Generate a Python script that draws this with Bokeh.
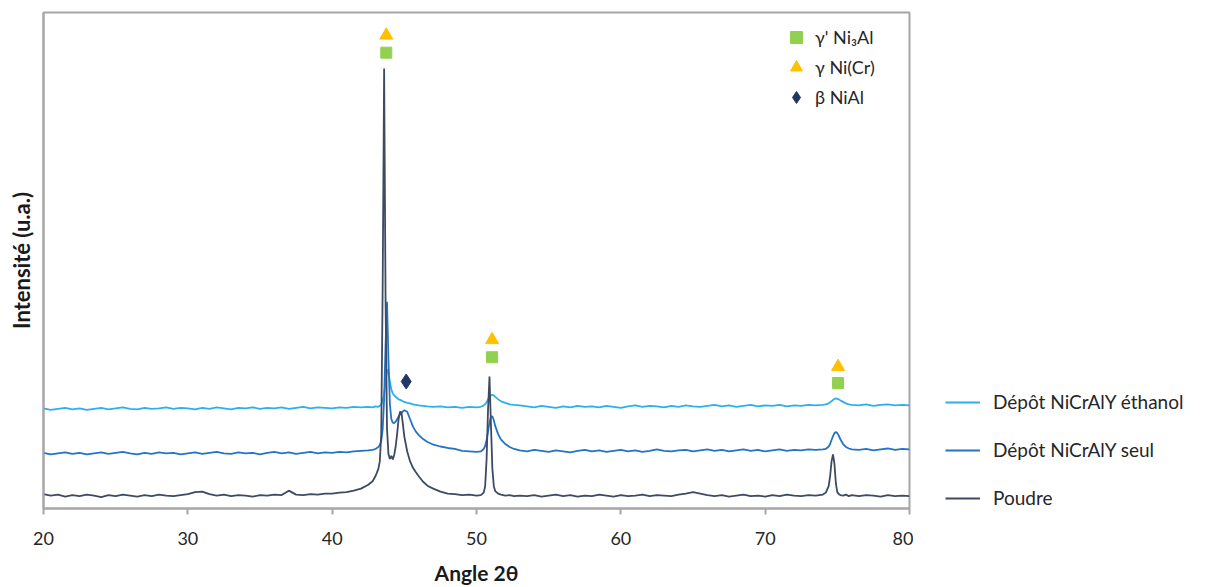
from bokeh.plotting import figure
from bokeh.layouts import row
from bokeh.models import Legend, LegendItem, Range1d, FixedTicker, ColumnDataSource
from bokeh.embed import file_html
from bokeh.resources import INLINE

# ---------------- data ----------------
ANGLE = [
    20.0, 20.5, 21.0, 21.5, 22.0, 22.5, 23.0, 23.5, 24.0, 24.5,
    25.0, 25.5, 26.0, 26.5, 27.0, 27.5, 28.0, 28.5, 29.0, 29.5,
    30.0, 30.5, 31.0, 31.5, 32.0, 32.5, 33.0, 33.5, 34.0, 34.5,
    35.0, 35.5, 36.0, 36.5, 37.0, 37.5, 38.0, 38.5, 39.0, 39.5,
    40.0, 40.5, 41.0, 41.5, 42.0, 42.5,
    42.8, 43.0, 43.2, 43.3, 43.4, 43.5, 43.6, 43.7, 43.8, 43.9,
    44.0, 44.1, 44.2, 44.3, 44.4, 44.5, 44.6, 44.7, 44.8, 44.9,
    45.0, 45.2, 45.4, 45.6, 45.8, 46.0, 46.3, 46.6, 47.0,
    47.5, 48.0, 48.5, 49.0, 49.5, 50.0,
    50.3, 50.5, 50.6, 50.7, 50.8, 50.9, 51.0, 51.1, 51.2, 51.3,
    51.5, 51.7, 52.0, 52.3, 52.6, 53.0,
    53.5, 54.0, 54.5, 55.0, 55.5, 56.0, 56.5, 57.0, 57.5, 58.0,
    58.5, 59.0, 59.5, 60.0, 60.5, 61.0, 61.5, 62.0, 62.5, 63.0,
    63.5, 64.0, 64.5, 65.0, 65.5, 66.0, 66.5, 67.0, 67.5, 68.0,
    68.5, 69.0, 69.5, 70.0, 70.5, 71.0, 71.5, 72.0, 72.5, 73.0,
    73.5, 74.0,
    74.2, 74.4, 74.5, 74.6, 74.7, 74.8, 74.9, 75.0, 75.1, 75.2,
    75.4, 75.6, 75.8, 76.0,
    76.5, 77.0, 77.5, 78.0, 78.5, 79.0, 79.5, 80.0,
]

POUDRE = [
    2.9, 2.6, 2.8, 2.4, 2.7, 2.5, 2.8, 2.6, 2.3, 2.7,
    2.5, 2.8, 2.6, 2.4, 2.7, 2.5, 2.8, 2.6, 2.5, 2.7,
    2.9, 3.3, 3.4, 2.9, 2.6, 2.8, 2.5, 2.7, 2.6, 2.4,
    2.7, 2.6, 2.8, 2.7, 3.6, 2.8, 2.7, 2.9, 2.8, 3.0,
    3.0, 3.2, 3.3, 3.6, 4.0, 4.8,
    5.5, 6.5, 8.0, 9.5, 15.0, 45.0, 88.7, 42.0, 16.0, 11.0,
    10.0, 10.6, 9.9, 10.8, 12.5, 15.0, 18.0, 19.5, 19.4, 17.0,
    14.5, 11.5, 9.5, 8.2, 7.3, 6.5, 5.4, 4.6, 4.0,
    3.4, 3.0, 2.9, 2.7, 2.8, 2.6,
    2.7, 3.2, 4.5, 10.0, 20.0, 26.6, 17.0, 8.0, 4.5, 3.5,
    3.0, 2.8, 2.6, 2.7, 2.5, 2.6,
    2.5, 2.7, 2.4, 2.6, 2.8, 2.5, 2.7, 2.4, 2.6, 2.5,
    2.8, 2.6, 2.4, 2.7, 2.5, 2.6, 2.8, 2.5, 2.7, 2.6,
    2.5, 2.8, 3.0, 3.3, 3.0, 2.7, 2.5, 2.7, 2.4, 2.6,
    2.8, 2.5, 2.6, 2.4, 2.7, 2.5, 2.8, 2.6, 2.5, 2.7,
    2.6, 2.8,
    3.2, 4.5, 6.5, 9.5, 10.9, 9.0, 5.0, 3.3, 2.9, 2.7,
    2.6, 2.8, 2.5, 2.7,
    2.5, 2.7, 2.6, 2.4, 2.7, 2.5, 2.6, 2.5,
]

SEUL = [
    11.2, 10.9, 11.1, 11.3, 11.0, 11.2, 10.9, 11.1, 11.3, 11.0,
    11.2, 11.4, 11.1, 10.9, 11.2, 11.0, 11.3, 11.1, 11.2, 10.9,
    11.1, 11.3, 11.0, 11.2, 11.4, 11.1, 11.0, 11.3, 11.1, 11.2,
    10.9, 11.2, 11.4, 11.1, 11.3, 11.0, 11.2, 11.4, 11.1, 11.3,
    11.2, 11.4, 11.3, 11.5, 11.6, 11.7,
    11.8, 12.0, 12.4, 12.8, 13.6, 16.0, 22.0, 33.0, 41.7, 30.0,
    21.0, 18.0, 17.3, 17.2, 17.5, 18.0, 18.5, 19.0, 19.3, 19.6,
    19.8, 19.5, 18.0, 16.5, 15.5, 14.8, 14.0, 13.4, 12.9,
    12.5, 12.2, 12.0, 11.6, 11.5, 11.4,
    11.5, 12.0, 12.6, 13.8, 15.5, 17.3, 18.5, 18.6, 17.8, 16.6,
    15.0, 13.9, 13.0, 12.4, 12.0, 11.7,
    11.5, 11.8, 11.6, 11.4, 11.7, 11.5, 11.3, 11.6, 11.8, 11.5,
    11.7, 11.4, 11.6, 11.8, 11.5, 11.7, 11.4, 11.6, 11.9, 11.6,
    11.5, 11.7, 11.8, 11.5, 11.7, 11.9, 11.6, 11.8, 11.5, 11.7,
    11.9, 11.6, 11.8, 11.5, 11.7, 11.9, 11.6, 11.8, 11.7, 11.9,
    11.8, 11.9,
    12.0, 12.5, 13.0, 13.8, 14.6, 15.2, 15.4, 15.2, 14.7, 14.0,
    13.0, 12.4, 12.1, 11.9,
    11.8, 12.0, 11.7, 11.9, 12.1, 11.8, 12.0, 11.9,
]

ETHANOL = [
    20.2, 19.9, 20.1, 20.3, 20.0, 20.2, 19.9, 20.1, 20.3, 20.0,
    20.2, 20.4, 20.1, 20.0, 20.3, 20.1, 20.2, 20.4, 20.1, 20.3,
    20.2, 20.0, 20.3, 20.1, 20.4, 20.2, 20.0, 20.3, 20.2, 20.4,
    20.1, 20.3, 20.2, 20.4, 20.1, 20.3, 20.5, 20.2, 20.4, 20.3,
    20.2, 20.4, 20.3, 20.5, 20.4, 20.5,
    20.4, 20.6, 20.5, 20.7, 21.0, 21.8, 23.0, 25.5, 28.0, 27.5,
    25.5, 24.0, 23.2, 22.8, 22.5, 22.3, 22.0, 21.9, 21.8, 21.6,
    21.5, 21.3, 21.2, 21.0, 20.9, 20.8, 20.7, 20.6, 20.5,
    20.6, 20.4, 20.5, 20.3, 20.5, 20.4,
    20.5, 20.8, 21.0, 21.4, 22.0, 22.5, 22.8, 22.9, 22.8, 22.5,
    22.0, 21.6, 21.3, 21.0, 20.9, 20.8,
    20.6, 20.4, 20.7, 20.5, 20.3, 20.6, 20.4, 20.7, 20.5, 20.6,
    20.4, 20.7, 20.5, 20.3, 20.6, 20.8, 20.5, 20.7, 20.6, 20.4,
    20.7, 20.5, 20.8, 20.6, 20.5, 20.7, 20.9, 20.6, 20.8, 20.5,
    20.7, 20.9, 20.6, 20.8, 20.7, 20.9, 20.6, 20.8, 20.7, 20.9,
    20.8, 20.9,
    21.0, 21.2, 21.4, 21.6, 21.9, 22.1, 22.2, 22.1, 22.0, 21.8,
    21.5, 21.2, 21.0, 20.9,
    20.8, 21.0, 20.7, 20.9, 21.0, 20.8, 20.9, 20.8,
]

SERIES_KEYS = ["ethanol", "seul", "poudre"]
SERIES_NAMES = ["Dépôt NiCrAlY éthanol", "Dépôt NiCrAlY seul", "Poudre"]
SERIES_COLORS = ["#2bb0ec", "#2374c4", "#3d4a62"]

# phase markers
GAMMA_PRIME_X = [43.75, 51.08, 75.05]
GAMMA_PRIME_Y = [91.9, 30.5, 25.3]
GAMMA_X = [43.75, 51.08, 75.05]
GAMMA_Y = [95.4, 34.0, 28.6]
BETA_X = [45.13]
BETA_Y = [25.6]
PHASE_NAMES = ["γ' Ni₃Al", "γ Ni(Cr)", "β NiAl"]

X_TICKS = [20, 30, 40, 50, 60, 70, 80]

# ---------------- main figure ----------------
FONT = "Lato"
TXT = "#262626"
GRAY = "#a6a6a6"
p = figure(width=913, height=587, x_range=Range1d(20, 80), y_range=Range1d(0, 100),
           output_backend="svg", toolbar_location=None,
           min_border_left=43, min_border_top=12, min_border_bottom=78, min_border_right=4)
p.background_fill_color = "white"
p.border_fill_color = "white"
p.outline_line_color = GRAY
p.outline_line_width = 2
p.xgrid.visible = False
p.ygrid.visible = False

xa = p.xaxis[0]
xa.ticker = FixedTicker(ticks=X_TICKS)
xa.minor_tick_line_color = None
xa.major_tick_in = 0
xa.major_tick_out = 6
xa.major_tick_line_color = GRAY
xa.major_tick_line_width = 2
xa.axis_line_color = GRAY
xa.axis_line_width = 2
xa.major_label_text_font = FONT
xa.major_label_text_font_size = "18px"
xa.major_label_text_color = TXT
xa.major_label_standoff = 17
xa.axis_label = "Angle 2θ"
xa.axis_label_text_font = FONT
xa.axis_label_text_font_style = "bold"
xa.axis_label_text_font_size = "21px"
xa.axis_label_text_color = "#1a1a1a"
xa.axis_label_standoff = 12

ya = p.yaxis[0]
ya.ticker = FixedTicker(ticks=[])
ya.minor_tick_line_color = None
ya.major_tick_in = 0
ya.major_tick_out = 0
ya.axis_line_color = GRAY
ya.axis_line_width = 2
ya.axis_label = "Intensité (u.a.)"
ya.axis_label_text_font = FONT
ya.axis_label_text_font_style = "bold"
ya.axis_label_text_font_size = "22px"
ya.axis_label_text_color = "#1a1a1a"
ya.axis_label_standoff = 9

src = ColumnDataSource(dict(angle=ANGLE, poudre=POUDRE, seul=SEUL, ethanol=ETHANOL))
for key, col in zip(SERIES_KEYS, SERIES_COLORS):
    p.line("angle", key, source=src, line_color=col, line_width=1.8)

r_gp = p.scatter(GAMMA_PRIME_X, GAMMA_PRIME_Y, marker="square", size=11,
                 fill_color="#92d050", line_color="#92d050")
r_g = p.scatter(GAMMA_X, GAMMA_Y, marker="triangle", size=13,
                fill_color="#ffc000", line_color="#ffc000")
r_b = p.scatter(BETA_X, BETA_Y, marker="diamond", size=15,
                fill_color="#1f3864", line_color="#1f3864")

phase_legend = Legend(
    items=[LegendItem(label=PHASE_NAMES[0], renderers=[r_gp]),
           LegendItem(label=PHASE_NAMES[1], renderers=[r_g]),
           LegendItem(label=PHASE_NAMES[2], renderers=[r_b])],
    location=(738, 396), orientation="vertical",
    glyph_width=30, glyph_height=30, label_height=30, spacing=0,
    label_standoff=4, padding=0, margin=0,
    border_line_color=None, background_fill_alpha=0,
    label_text_font=FONT, label_text_font_size="18px", label_text_color=TXT)
p.add_layout(phase_legend, "center")

# ---------------- legend panel (right of the chart) ----------------
q = figure(width=300, height=587, x_range=Range1d(0, 1), y_range=Range1d(0, 1),
           output_backend="svg", toolbar_location=None,
           x_axis_type=None, y_axis_type=None,
           min_border_left=0, min_border_right=0, min_border_top=12, min_border_bottom=78)
q.outline_line_color = None
q.xgrid.visible = False
q.ygrid.visible = False
q.border_fill_color = "white"
# same series drawn in this panel only so that the legend shows their lines
# (they fall outside this panel's ranges, so nothing is visible here)
lr = [q.line("angle", key, source=src, line_color=col, line_width=1.8)
      for key, col in zip(SERIES_KEYS, SERIES_COLORS)]

series_legend = Legend(
    items=[LegendItem(label=SERIES_NAMES[i], renderers=[lr[i]]) for i in range(3)],
    location=(32, -1), orientation="vertical",
    glyph_width=35, glyph_height=22, label_height=22, spacing=25,
    label_standoff=13, padding=0, margin=0,
    border_line_color=None, background_fill_alpha=0,
    label_text_font=FONT, label_text_font_size="19px", label_text_color=TXT)
q.add_layout(series_legend, "center")

layout = row(p, q, spacing=0)
open("out.html", "w").write(file_html(layout, INLINE))
